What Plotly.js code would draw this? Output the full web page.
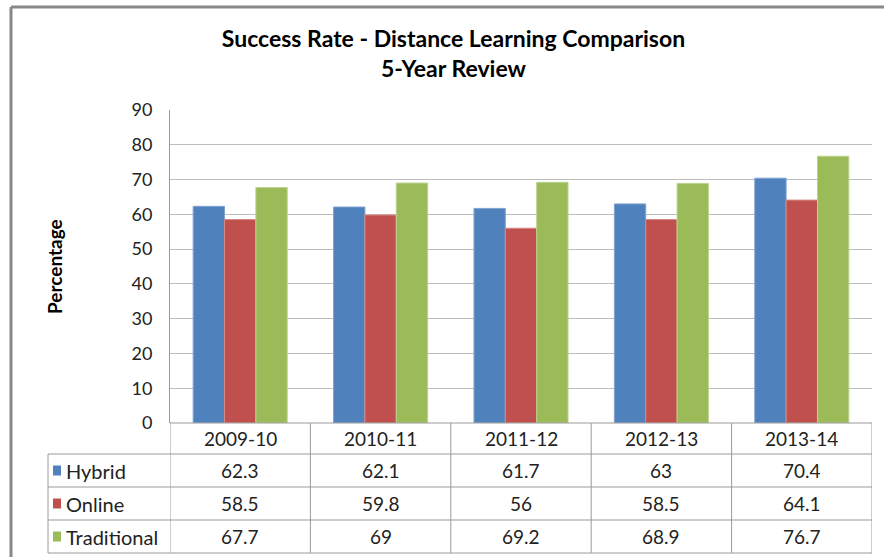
<!DOCTYPE html>
<html>
<head>
<meta charset="utf-8">
<script src="https://cdn.plot.ly/plotly-3.0.1.min.js"></script>
<style>html,body{margin:0;padding:0;background:#fff;}#chart{width:884px;height:557px;}</style>
</head>
<body>
<div id="chart"></div>
<script>
// ---- data ----
const years = ['2009-10', '2010-11', '2011-12', '2012-13', '2013-14'];
const hybrid = [62.3, 62.1, 61.7, 63, 70.4];
const online = [58.5, 59.8, 56, 58.5, 64.1];
const traditional = [67.7, 69, 69.2, 68.9, 76.7];
const seriesNames = ['Hybrid', 'Online', 'Traditional'];
const yTicks = [0, 10, 20, 30, 40, 50, 60, 70, 80, 90];

// ---- styling ----
const colors = ['#4F81BD', '#C0504D', '#9BBB59'];
const edgeColors = ['#7FA3D0', '#D68A88', '#BCD38F'];
const FONT = 'Lato, "Liberation Sans", Arial, sans-serif';
const W = 884, H = 557, L = 170, R = 12, T = 110, B = 134;
const pw = W - L - R, ph = H - T - B;
const px = x => (x - L) / pw;
const py = y => (H - B - y) / ph;
const lineCol = '#9a9a9a';

const seriesVals = [hybrid, online, traditional];
const xIdx = years.map((_, i) => i);

const traces = seriesVals.map((vals, k) => ({
  type: 'bar', name: seriesNames[k], x: xIdx, y: vals,
  marker: {color: colors[k], line: {color: edgeColors[k], width: 1}},
  hoverinfo: 'y'
}));

const shapes = [];
const annotations = [];
// outer frame (cropped)
shapes.push({type: 'line', xref: 'paper', yref: 'paper', x0: px(11), x1: px(11), y0: py(7), y1: py(600), line: {color: '#888', width: 3}});
shapes.push({type: 'line', xref: 'paper', yref: 'paper', x0: px(11), x1: px(900), y0: py(7), y1: py(7), line: {color: '#888', width: 3}});

// data table geometry
const rowY = [423, 454, 487, 520, 553];
shapes.push({type: 'line', xref: 'x', yref: 'paper', x0: -0.5, x1: years.length - 0.5, y0: py(rowY[0]), y1: py(rowY[0]), line: {color: lineCol, width: 1}});
for (let r = 1; r < rowY.length; r++) {
  shapes.push({type: 'line', xref: 'paper', yref: 'paper', x0: px(48), x1: 1, y0: py(rowY[r]), y1: py(rowY[r]), line: {color: lineCol, width: 1}});
}
for (let c = 0; c <= years.length; c++) {
  shapes.push({type: 'line', xref: 'x', yref: 'paper', x0: c - 0.5, x1: c - 0.5, y0: py(rowY[0]), y1: py(rowY[4]), line: {color: lineCol, width: 1}});
}
shapes.push({type: 'line', xref: 'paper', yref: 'paper', x0: px(48), x1: px(48), y0: py(rowY[1]), y1: py(rowY[4]), line: {color: lineCol, width: 1}});

const tf = {family: FONT, size: 19, color: '#222'};
years.forEach((yr, i) => {
  annotations.push({xref: 'x', yref: 'paper', x: i, y: py((rowY[0] + rowY[1]) / 2), text: yr, showarrow: false, font: tf, xanchor: 'center', yanchor: 'middle'});
});
seriesVals.forEach((vals, k) => {
  const yc = (rowY[k + 1] + rowY[k + 2]) / 2;
  shapes.push({type: 'rect', xref: 'paper', yref: 'paper', x0: px(53), x1: px(61), y0: py(yc - 5), y1: py(yc + 5), fillcolor: colors[k], line: {width: 0}});
  annotations.push({xref: 'paper', yref: 'paper', x: px(64), y: py(yc), text: seriesNames[k], showarrow: false, font: {family: FONT, size: 20, color: '#222'}, xanchor: 'left', yanchor: 'middle'});
  vals.forEach((v, i) => {
    annotations.push({xref: 'x', yref: 'paper', x: i, y: py(yc), text: String(v), showarrow: false, font: tf, xanchor: 'center', yanchor: 'middle'});
  });
});
annotations.push({xref: 'paper', yref: 'paper', x: px(54), y: py(267), text: '<b>Percentage</b>', textangle: -90, showarrow: false, font: {family: FONT, size: 19, color: '#000'}, xanchor: 'center', yanchor: 'middle'});

const layout = {
  width: W, height: H,
  margin: {l: L, r: R, t: T, b: B},
  paper_bgcolor: '#fff', plot_bgcolor: '#fff',
  title: {text: '<b>Success Rate - Distance Learning Comparison</b><br><b>5-Year Review</b>', x: 0.513, xanchor: 'center', y: 1 - 47 / H, yanchor: 'middle', font: {family: FONT, size: 23, color: '#000'}},
  showlegend: false,
  barmode: 'group', bargap: 0.33, bargroupgap: 0,
  xaxis: {range: [-0.5, years.length - 0.5], showticklabels: false, showgrid: false, zeroline: false, showline: false, ticks: '', fixedrange: true},
  yaxis: {range: [0, 90], tickvals: yTicks, ticktext: yTicks.map(String), showgrid: true, gridcolor: '#bdbdbd', gridwidth: 1.2, zeroline: false,
          showline: true, linecolor: lineCol, linewidth: 1, ticks: '',
          tickfont: {family: FONT, size: 18, color: '#222'}, ticklabelstandoff: 13, fixedrange: true},
  shapes: shapes,
  annotations: annotations
};

Plotly.newPlot('chart', traces, layout, {displayModeBar: false, staticPlot: true});
</script>
</body>
</html>
